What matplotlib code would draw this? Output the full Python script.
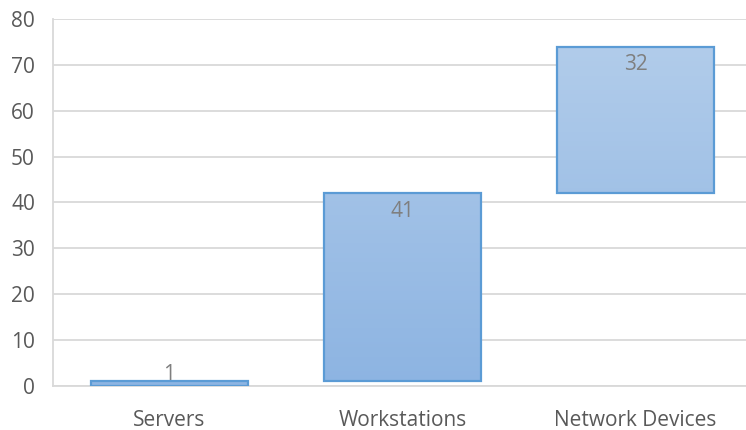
import numpy as np
import matplotlib
matplotlib.use("Agg")
import matplotlib.pyplot as plt
from matplotlib.colors import LinearSegmentedColormap

# waterfall data: each category adds to the running total
categories = ["Servers", "Workstations", "Network Devices"]
counts = [1, 41, 32]
y_ticks = [0, 10, 20, 30, 40, 50, 60, 70, 80]

plt.rcParams['font.family'] = ['Open Sans', 'DejaVu Sans']

fig = plt.figure(figsize=(7.46, 4.30), dpi=100)
# axes runs slightly past the right edge of the figure
ax = fig.add_axes([53 / 746, 44 / 430, 699 / 746, 367 / 430])

starts = np.concatenate([[0], np.cumsum(counts)[:-1]])
ends = starts + np.array(counts)
x = np.arange(len(categories))
bar_w = 0.67

# vertical gradient shared by all bars (lighter near the top)
cmap = LinearSegmentedColormap.from_list("fill", ["#8db4e2", "#b4ceeb"])
grad = np.linspace(0, 1, 256).reshape(-1, 1)

ax.set_xlim(-0.5, len(categories) - 0.5)
ax.set_ylim(0, 80)

for xi, lo, hi, n in zip(x, starts, ends, counts):
    rect = plt.Rectangle((xi - bar_w / 2, lo), bar_w, hi - lo,
                         facecolor="none", edgecolor="#5b9bd5", linewidth=1.6, zorder=4)
    ax.add_patch(rect)
    im = ax.imshow(grad, cmap=cmap, origin="lower", aspect="auto",
                   extent=[xi - bar_w / 2, xi + bar_w / 2, 0, 80], zorder=3)
    im.set_clip_path(rect)
    # label sits just inside the top of the bar, or on top of very thin bars
    if n < 5:
        ax.annotate(str(n), (xi, lo), xytext=(0, 11), textcoords="offset pixels",
                    ha="center", va="center", fontsize=15, color="#7f7f7f", zorder=5)
    else:
        ax.annotate(str(n), (xi, hi), xytext=(0, -18), textcoords="offset pixels",
                    ha="center", va="center", fontsize=15, color="#7f7f7f", zorder=5)

ax.set_xticks(x)
ax.set_xticklabels(categories)
ax.set_yticks(y_ticks)
ax.grid(axis="y", color="#d9d9d9", linewidth=1.3, zorder=0)
ax.set_axisbelow(True)
for side in ["top", "right"]:
    ax.spines[side].set_visible(False)
for side in ["left", "bottom"]:
    ax.spines[side].set_color("#d9d9d9")
    ax.spines[side].set_linewidth(1.3)
ax.tick_params(axis="both", length=0, labelsize=15, labelcolor="#595959")
ax.tick_params(axis="y", pad=13)
ax.tick_params(axis="x", pad=17)

fig.savefig("out.png", dpi=100)
